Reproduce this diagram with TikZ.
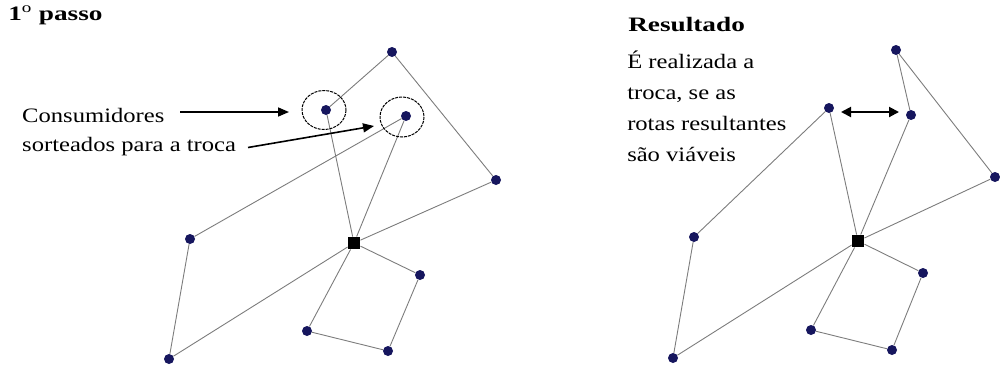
\documentclass[tikz,border=0pt]{standalone}
\usepackage{fontspec}
\setmainfont{Liberation Serif}
\usetikzlibrary{arrows.meta}
\definecolor{Cli}{HTML}{16165E}
\definecolor{Rota}{HTML}{7C7C7C}

\begin{document}
\begin{tikzpicture}[x=1pt,y=-1pt,
  cli/.style={circle,fill=Cli,inner sep=0pt,minimum size=10pt},
  dep/.style={rectangle,fill=black,inner sep=0pt,minimum size=12.5pt},
  rota/.style={Rota,line width=.9pt},
  sel/.style={black,line width=1pt,dash pattern=on 3pt off 1pt},
  txt/.style={anchor=base west,inner sep=0pt,font=\fontsize{20.5}{24}\selectfont,xscale=1.2},
  tit/.style={anchor=base west,inner sep=0pt,font=\fontsize{20.5}{24}\selectfont\bfseries,xscale=1.33},
  seta/.style={black,line width=1.6pt,-{Triangle[length=11pt,width=9pt]}},
  troca/.style={black,line width=2pt,{Triangle[length=10pt,width=10pt]}-{Triangle[length=10pt,width=10pt]}}]
\useasboundingbox (0,0) rectangle (1000,367);
% 1o passo
\node[tit] (passo) at (8,20) {1\textsuperscript{\mdseries o} passo};
\node[txt] (cons) at (22,122) {Consumidores};
\node[txt] (sort) at (22,151.5) {sorteados para a troca};
\node[cli] (a1) at (392,52) {};
\node[cli] (b1) at (326,110) {};
\node[cli] (c1) at (406,116) {};
\node[cli] (d1) at (496,180) {};
\node[dep] (dep1) at (354,243) {};
\node[cli] (e1) at (190,239) {};
\node[cli] (f1) at (169,359) {};
\node[cli] (g1) at (420,275) {};
\node[cli] (h1) at (307,331) {};
\node[cli] (i1) at (388,351) {};
\foreach \u/\v in {dep1/b1,b1/a1,a1/d1,d1/dep1,dep1/c1,c1/e1,e1/f1,f1/dep1,dep1/g1,g1/i1,i1/h1,h1/dep1}
  \draw[rota] (\u) -- (\v);
\draw[sel] (324,110) ellipse [x radius=22, y radius=19.5];
\draw[sel] (402,117) ellipse [x radius=22, y radius=20];
\coordinate (s1) at (180,112);
\coordinate (s1t) at (289,112);
\coordinate (s2) at (248,147.5);
\coordinate (s2t) at (374,126);
\draw[seta] (s1) -- (s1t);
\draw[seta] (s2) -- (s2t);
% resultado
\node[tit] (res) at (628,31) {Resultado};
\node[txt] (r1) at (627,68.5) {É realizada a};
\node[txt] (r2) at (627,99.5) {troca, se as};
\node[txt] (r3) at (627,130.5) {rotas resultantes};
\node[txt] (r4) at (627,161) {são viáveis};
\node[cli] (a2) at (896,50) {};
\node[cli] (b2) at (829,108) {};
\node[cli] (c2) at (911,115) {};
\node[cli] (d2) at (995,177) {};
\node[dep] (dep2) at (858,241) {};
\node[cli] (e2) at (694,237) {};
\node[cli] (f2) at (673,358) {};
\node[cli] (g2) at (923,273) {};
\node[cli] (h2) at (811,330) {};
\node[cli] (i2) at (892,350) {};
\foreach \u/\v in {dep2/b2,b2/e2,e2/f2,f2/dep2,dep2/c2,c2/a2,a2/d2,d2/dep2,dep2/g2,g2/i2,i2/h2,h2/dep2}
  \draw[rota] (\u) -- (\v);
\coordinate (x1) at (841,112);
\coordinate (x2) at (899,112);
\draw[troca] (x1) -- (x2);
\end{tikzpicture}
\end{document}
